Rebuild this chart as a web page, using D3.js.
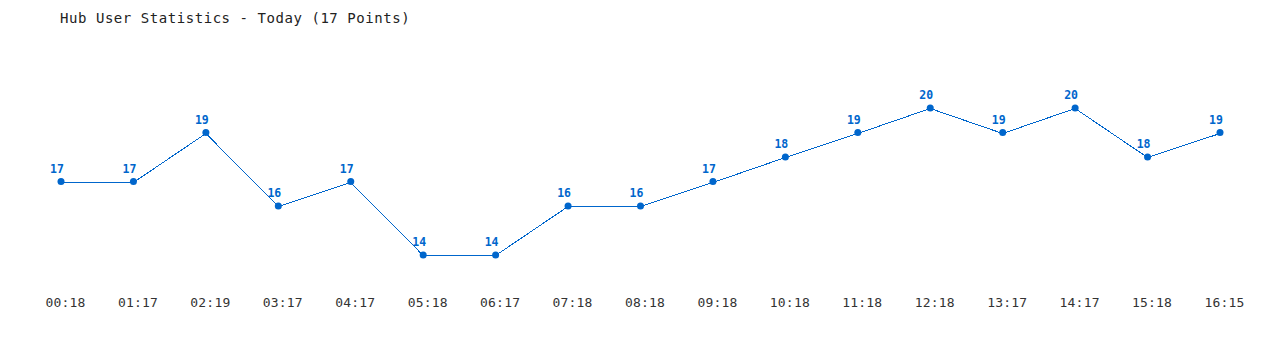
<!DOCTYPE html>
<html><head><meta charset="utf-8">
<script src="https://cdn.jsdelivr.net/npm/d3@7"></script>
<style>body{margin:0;background:#fff}</style>
</head><body>
<svg id="chart" width="1280" height="350"></svg>
<script>
const categories = ["00:18","01:17","02:19","03:17","04:17","05:18","06:17","07:18","08:18","09:18","10:18","11:18","12:18","13:17","14:17","15:18","16:15"];
const values = [17,17,19,16,17,14,14,16,16,17,18,19,20,19,20,18,19];
const title = "Hub User Statistics - Today (17 Points)";

const svg = d3.select("#chart");
const font = "'DejaVu Sans Mono', monospace";
const color = "#0066cc";

svg.append("text").attr("x", 60).attr("y", 23).attr("font-family", font)
  .attr("font-size", 14).attr("letter-spacing", 0.55).attr("fill", "#222").text(title);

const x = d3.scalePoint().domain(categories).range([61, 1220]);
const y = d3.scaleLinear().domain([14, 20]).range([255, 108]);

const xAxis = d3.axisBottom(x).tickSize(0).tickPadding(0);
const gx = svg.append("g").attr("transform", "translate(4,298)").call(xAxis);
gx.select(".domain").remove();
gx.selectAll("text").attr("font-family", font).attr("font-size", 13).attr("letter-spacing", 0.2)
  .attr("fill", "#333").attr("dy", "0.71em");

const line = d3.line().x((d, i) => x(categories[i])).y(d => Math.round(y(d)) + 0.5);
svg.append("path").datum(values).attr("d", line).attr("fill", "none")
  .attr("stroke", color).attr("stroke-width", 1).attr("shape-rendering", "crispEdges");

svg.selectAll("circle.pt").data(values).enter().append("circle")
  .attr("cx", (d, i) => x(categories[i])).attr("cy", d => y(d)).attr("r", 3.5).attr("fill", color);

svg.selectAll("text.lbl").data(values).enter().append("text")
  .attr("x", (d, i) => x(categories[i]) - 4).attr("y", d => y(d) - 9)
  .attr("text-anchor", "middle").attr("font-family", font).attr("font-size", 11.5)
  .attr("font-weight", "bold").attr("fill", color).text(d => d);
</script>
</body></html>
